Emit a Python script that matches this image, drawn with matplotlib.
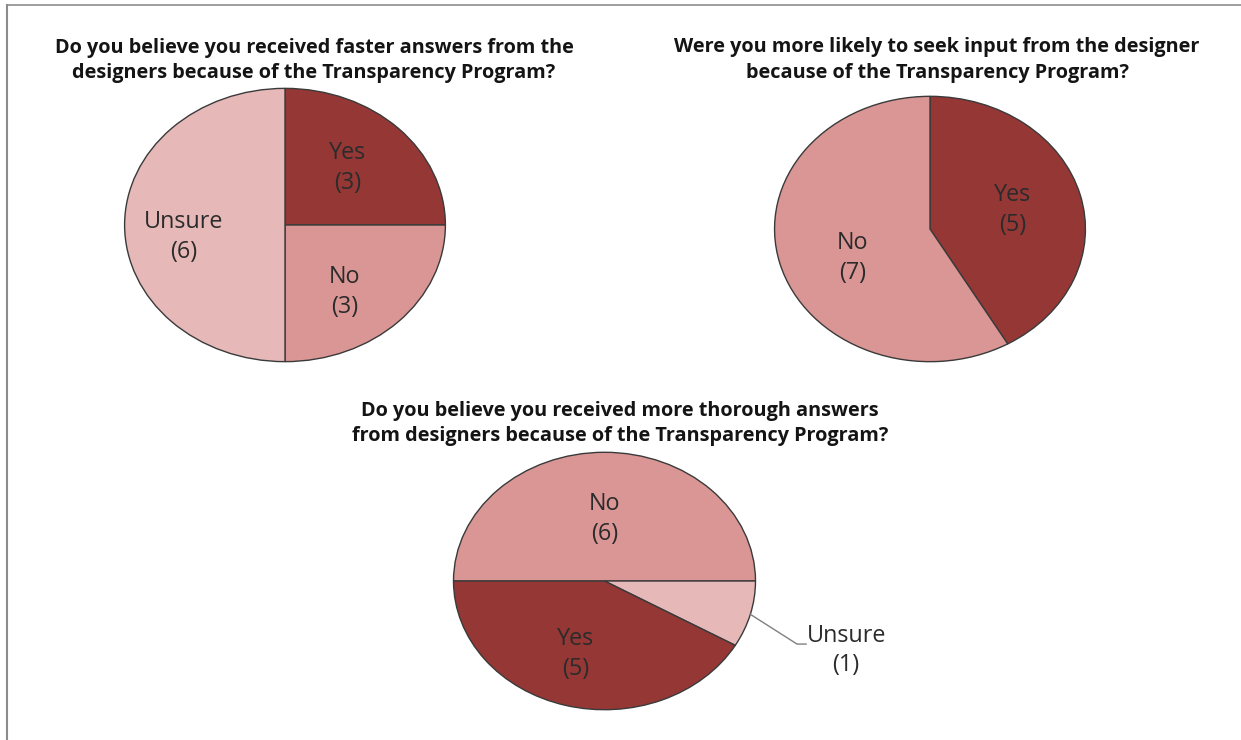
import numpy as np
import matplotlib.pyplot as plt
from matplotlib.lines import Line2D

# survey answers, clockwise from each pie's start angle
q1_labels = ["Yes", "No", "Unsure"]
q1_counts = [3, 3, 6]
q2_labels = ["Yes", "No"]
q2_counts = [5, 7]
q3_labels = ["No", "Unsure", "Yes"]
q3_counts = [6, 1, 5]

q1_title = "Do you believe you received faster answers from the\ndesigners because of the Transparency Program?"
q2_title = "Were you more likely to seek input from the designer\nbecause of the Transparency Program?"
q3_title = "Do you believe you received more thorough answers\nfrom designers because of the Transparency Program?"

colors = {"Yes": "#953735", "No": "#D99694", "Unsure": "#E6B9B8"}

W, H = 1241, 740
plt.rcParams['font.family'] = ['Open Sans', 'DejaVu Sans']


def px_axes(fig, x0, y0, x1, y1):
    # axes from pixel box (top-left origin)
    return fig.add_axes([x0 / W, 1 - y1 / H, (x1 - x0) / W, (y1 - y0) / H])


def draw_pie(ax, labels, counts, start, label_pos):
    wedges, texts = ax.pie(counts, labels=[f"{l}\n({c})" for l, c in zip(labels, counts)],
                           colors=[colors[l] for l in labels], startangle=start,
                           counterclock=False,
                           wedgeprops=dict(edgecolor="#3a3a3a", linewidth=1.0),
                           textprops=dict(fontsize=16.8, color="#2b2b2b", ha="center",
                                          va="center", linespacing=1.33))
    ax.set_aspect("auto")
    ax.set_xlim(-1.01, 1.01)
    ax.set_ylim(-1.01, 1.01)
    for t, pos in zip(texts, label_pos):
        t.set_horizontalalignment("center")
        t.set_verticalalignment("center")
        t.set_position(pos)
    return wedges, texts


fig = plt.figure(figsize=(W / 100, H / 100), dpi=100)

ax1 = px_axes(fig, 123, 87, 447, 363)
draw_pie(ax1, q1_labels, q1_counts, 90, [(0.39, 0.42), (0.37, -0.49), (-0.63, -0.09)])

ax2 = px_axes(fig, 773, 95, 1087, 363)
draw_pie(ax2, q2_labels, q2_counts, 90, [(0.53, 0.14), (-0.50, -0.22)])

ax3 = px_axes(fig, 452, 451, 757, 711)
lab3 = (1.6, -0.54)
w3, t3 = draw_pie(ax3, q3_labels, q3_counts, 180, [(0.0, 0.48), lab3, (-0.19, -0.57)])
# leader line from the small slice's edge to its outside label
mid = np.deg2rad((w3[1].theta1 + w3[1].theta2) / 2)
ax3.plot([np.cos(mid), 1.275, 1.335], [np.sin(mid), -0.49, -0.49],
         color="#808080", lw=1.0, clip_on=False)

title_kw = dict(fontsize=14.3, fontweight="bold", color="#141414", ha="center",
                va="center", linespacing=1.38)
fig.text(314 / W, 1 - 60.5 / H, q1_title, **title_kw)
fig.text(937 / W, 1 - 60 / H, q2_title, **title_kw)
fig.text(620 / W, 1 - 423.5 / H, q3_title, **title_kw)

# outer frame
fig.add_artist(Line2D([7 / W, 1], [1 - 5 / H, 1 - 5 / H], color="#8c8c8c", lw=1.2))
fig.add_artist(Line2D([7 / W, 7 / W], [0, 1 - 5 / H], color="#8c8c8c", lw=1.5))

fig.savefig("out.png", dpi=100, facecolor="white")
